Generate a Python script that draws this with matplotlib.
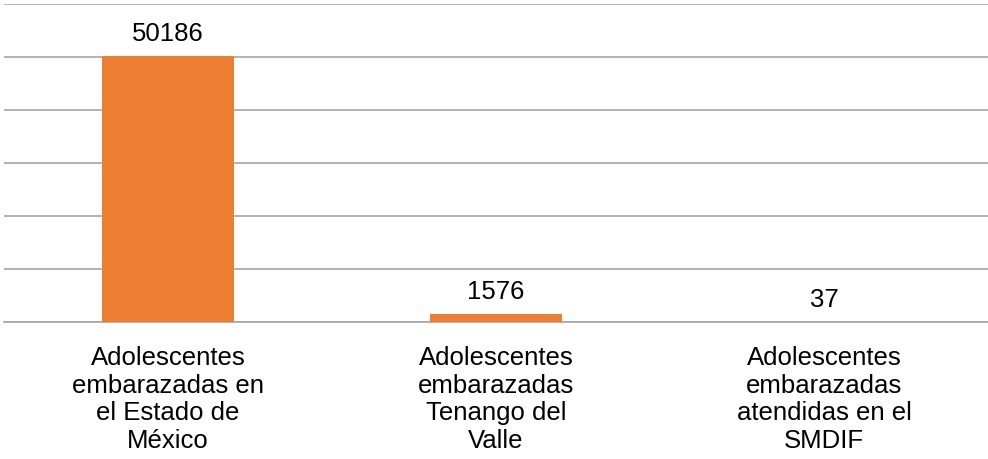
import matplotlib
matplotlib.use("Agg")
import matplotlib.pyplot as plt

categories = ["Adolescentes\nembarazadas en\nel Estado de\nMéxico",
              "Adolescentes\nembarazadas\nTenango del\nValle",
              "Adolescentes\nembarazadas\natendidas en el\nSMDIF"]
values = [50186, 1576, 37]

plt.rcParams['font.family'] = ['Liberation Sans', 'DejaVu Sans']

fig = plt.figure(figsize=(9.88, 4.6), dpi=100)
ax = fig.add_axes([4/988, 137/460, 984/988, 318/460])
x = range(len(values))
ax.bar(x, values, width=0.4, color='#ED7D31', zorder=3)
ax.set_ylim(0, 60000)
ax.set_xlim(-0.5, 2.5)
ax.set_yticks(range(0, 60001, 10000))
ax.yaxis.grid(True, color='#A6A6A6', linewidth=1.2, zorder=0)
ax.tick_params(axis='y', length=0, labelleft=False)
ax.tick_params(axis='x', length=0, pad=16.5)
ax.set_xticks(list(x))
ax.set_xticklabels(categories, fontsize=18.5, linespacing=1.19)
for s in ['top', 'right', 'left']:
    ax.spines[s].set_visible(False)
ax.spines['bottom'].set_color('#A6A6A6')
ax.spines['bottom'].set_linewidth(1.2)
for xi, v in zip(x, values):
    ax.annotate(str(v), (xi, v), xytext=(0, 8), textcoords='offset points',
                ha='center', va='bottom', fontsize=18.5)
fig.savefig("out.png", dpi=100)
